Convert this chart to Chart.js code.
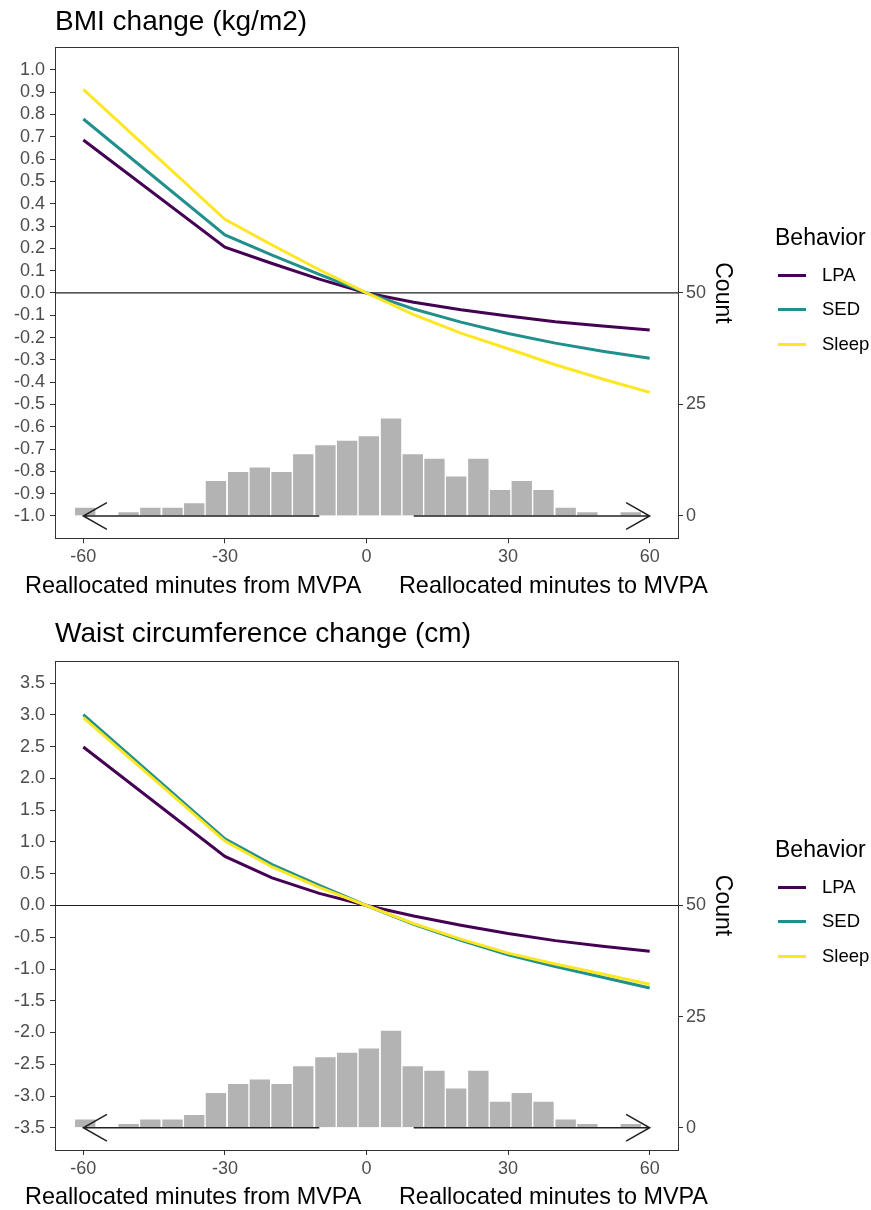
<!DOCTYPE html>
<html>
<head>
<meta charset="utf-8">
<script src="https://cdn.jsdelivr.net/npm/chart.js@4.4.1/dist/chart.umd.min.js"></script>
<style>
  body { margin: 0; background: #fff; font-family: 'Liberation Sans', Arial, sans-serif; }
  .plot { position: relative; width: 871px; height: 605px; }
  .plot canvas { position: absolute; left: 0; top: 0; }
  .xlab { position: absolute; left: 0; width: 733px; text-align: center; white-space: pre;
          font-size: 23.4px; line-height: 28px; color: #000; }
  .legend { position: absolute; left: 775px; width: 96px; color: #000; }
  .legend .ttl { font-size: 23px; line-height: 28px; height: 28px; white-space: nowrap; }
  .legend .rows { margin-top: 6.5px; }
  .legend .row { position: relative; height: 34.7px; }
  .legend .key { position: absolute; left: 3px; top: 16px; width: 28px; height: 3px; }
  .legend .lab { position: absolute; left: 47px; top: 0; line-height: 34.7px; font-size: 18.5px; white-space: nowrap; }
</style>
</head>
<body>
<div class="plot">
  <canvas id="bmiChart" width="871" height="605"></canvas>
  <div class="xlab" id="bmiXlab" style="top:571px"></div>
  <div class="legend" id="bmiLegend" style="top:223px"></div>
</div>
<div class="plot">
  <canvas id="waistChart" width="871" height="605"></canvas>
  <div class="xlab" id="waistXlab" style="top:577px"></div>
  <div class="legend" id="waistLegend" style="top:230px"></div>
</div>
<script>
// reallocated minutes (x) and predicted change per behavior
const minutes = [-60, -30, -20, -10, 0, 10, 20, 30, 40, 50, 60];

const bmiLPA   = [0.686, 0.205, 0.132, 0.062, 0, -0.042, -0.075, -0.103, -0.129, -0.148, -0.166];
const bmiSED   = [0.780, 0.260, 0.170, 0.083, 0, -0.072, -0.131, -0.182, -0.225, -0.261, -0.293];
const bmiSleep = [0.913, 0.330, 0.215, 0.104, 0, -0.097, -0.180, -0.250, -0.322, -0.386, -0.446];

const waistLPA   = [2.496, 0.773, 0.435, 0.190, 0, -0.165, -0.310, -0.440, -0.553, -0.640, -0.720];
const waistSED   = [3.006, 1.051, 0.645, 0.315, 0, -0.295, -0.550, -0.775, -0.960, -1.130, -1.300];
const waistSleep = [2.959, 1.014, 0.607, 0.285, 0, -0.285, -0.530, -0.750, -0.920, -1.080, -1.240];

// histogram of observed reallocations
const binMid   = [-59.6, -55.0, -50.4, -45.8, -41.1, -36.5, -31.9, -27.2, -22.6, -18.0, -13.4, -8.7, -4.1,
                  0.5, 5.2, 9.8, 14.4, 19.0, 23.7, 28.3, 32.9, 37.5, 42.2, 46.8, 51.4, 56.0];
const binCount = [2, 0, 1, 2, 2, 3, 8, 10, 11, 10, 14, 16, 17, 18, 22, 14, 13, 9, 13, 6, 8, 6, 2, 1, 0, 1];

const behaviors = ['LPA', 'SED', 'Sleep'];
const behaviorColors = ['#440154', '#21908C', '#FDE725'];

const xTicks = [-60, -30, 0, 30, 60];
const countTicks = [0, 25, 50];
const bmiTicks = [1.0, 0.9, 0.8, 0.7, 0.6, 0.5, 0.4, 0.3, 0.2, 0.1, 0.0,
                  -0.1, -0.2, -0.3, -0.4, -0.5, -0.6, -0.7, -0.8, -0.9, -1.0];
const waistTicks = [3.5, 3.0, 2.5, 2.0, 1.5, 1.0, 0.5, 0.0, -0.5, -1.0, -1.5, -2.0, -2.5, -3.0, -3.5];

const xRange = [-66, 66];
const countRange = [-5, 105];
const bmiRange = [-1.1, 1.1];
const waistRange = [-3.85, 3.85];

// arrows under the histogram (minutes, counts)
const arrowLeft = [-60, -10];
const arrowRight = [10, 60];
const arrowHead = 5;
const arrowSpread = 3;

const xLabel = 'Reallocated minutes from MVPA      Reallocated minutes to MVPA';

Chart.defaults.font.family = "'Liberation Sans', Arial, Helvetica, sans-serif";

function arrowPoints(){
    let l = arrowLeft[0], r = arrowRight[1];
    return [
        {x: l + arrowHead, y: arrowSpread}, {x: l, y: 0}, {x: l + arrowHead, y: -arrowSpread},
        {x: l, y: null},
        {x: arrowLeft[0], y: 0}, {x: arrowLeft[1], y: 0},
        {x: arrowLeft[1], y: null},
        {x: arrowRight[0], y: 0}, {x: arrowRight[1], y: 0},
        {x: r, y: null},
        {x: r - arrowHead, y: arrowSpread}, {x: r, y: 0}, {x: r - arrowHead, y: -arrowSpread}
    ];
}

function setTicks(list){
    return function(scale){ scale.ticks = list.map(v => ({value: v})); };
}

function buatChart(id, cfg){
    let datasets = [];
    behaviors.forEach(function(b, i){
        datasets.push({
            type: 'line', label: b,
            data: minutes.map((m, k) => ({x: m, y: cfg.series[i][k]})),
            borderColor: behaviorColors[i], borderWidth: 3,
            pointRadius: 0, tension: 0, yAxisID: 'y', order: 2 - i
        });
    });
    // zero reference line
    datasets.push({
        type: 'line', data: [{x: xRange[0], y: 0}, {x: xRange[1], y: 0}],
        borderColor: '#222222', borderWidth: 1.2, pointRadius: 0, yAxisID: 'y', order: 3
    });
    datasets.push({
        type: 'line', data: arrowPoints(), borderColor: '#222222', borderWidth: 1.5,
        pointRadius: 0, spanGaps: false, yAxisID: 'yc', order: 4
    });
    // HISTOGRAM
    datasets.push({
        type: 'bar', data: binMid.map((m, k) => ({x: m, y: binCount[k]})),
        backgroundColor: '#B3B3B3', borderColor: '#ffffff', borderWidth: 1,
        barPercentage: 1, categoryPercentage: 1, yAxisID: 'yc', order: 5
    });

    const tickFont = {size: 18};
    const axisGrid = {drawOnChartArea: false, color: '#333333', tickLength: 5, offset: false};
    const axisBorder = {color: '#333333', width: 1};

    return new Chart(document.getElementById(id), {
        type: 'line',
        data: {datasets: datasets},
        options: {
            responsive: false, animation: false, devicePixelRatio: 1,
            layout: {padding: {left: 0, right: 131, top: 0, bottom: cfg.padBottom}},
            plugins: {
                legend: {display: false},
                tooltip: {enabled: false},
                title: {
                    display: true, text: cfg.title, align: 'start', fullSize: false,
                    color: '#000', font: {size: 28, weight: 'normal'},
                    padding: {top: cfg.titleTop, bottom: cfg.titleBottom}
                }
            },
            scales: {
                x: {
                    type: 'linear', position: 'bottom', min: xRange[0], max: xRange[1], offset: false,
                    afterBuildTicks: setTicks(xTicks),
                    afterFit: s => { s.height = 60; },
                    ticks: {color: '#4d4d4d', font: tickFont, padding: 3, autoSkip: false, maxRotation: 0},
                    grid: axisGrid, border: axisBorder
                },
                xt: {
                    type: 'linear', position: 'top', min: xRange[0], max: xRange[1], offset: false,
                    ticks: {display: false}, grid: {display: false}, border: axisBorder,
                    afterFit: s => { s.height = 0; }
                },
                y: {
                    type: 'linear', position: 'left', min: cfg.range[0], max: cfg.range[1],
                    afterBuildTicks: setTicks(cfg.ticks),
                    afterFit: s => { s.width = 55; },
                    ticks: {color: '#4d4d4d', font: tickFont, padding: 5, autoSkip: false,
                            callback: v => v.toFixed(1)},
                    grid: axisGrid, border: axisBorder
                },
                yc: {
                    type: 'linear', position: 'right', min: countRange[0], max: countRange[1],
                    afterBuildTicks: setTicks(countTicks),
                    afterFit: s => { s.width = 62; },
                    ticks: {color: '#4d4d4d', font: tickFont, padding: 3, autoSkip: false},
                    grid: axisGrid, border: axisBorder,
                    title: {display: true, text: 'Count', color: '#000', font: {size: 23}, padding: {top: 4, bottom: 4}}
                }
            }
        }
    });
}

function buatLegend(id){
    let el = document.getElementById(id);
    let html = '<div class="ttl">Behavior</div><div class="rows">';
    behaviors.forEach(function(b, i){
        html += `<div class="row"><div class="key" style="background:${behaviorColors[i]}"></div>
                 <div class="lab">${b}</div></div>`;
    });
    el.innerHTML = html + '</div>';
}

buatChart('bmiChart', {
    title: 'BMI change (kg/m2)', series: [bmiLPA, bmiSED, bmiSleep],
    ticks: bmiTicks, range: bmiRange, titleTop: 5, titleBottom: 9, padBottom: 6.7
});
buatChart('waistChart', {
    title: 'Waist circumference change (cm)', series: [waistLPA, waistSED, waistSleep],
    ticks: waistTicks, range: waistRange, titleTop: 12, titleBottom: 10.4, padBottom: 0
});
document.getElementById('bmiXlab').textContent = xLabel;
document.getElementById('waistXlab').textContent = xLabel;
buatLegend('bmiLegend');
buatLegend('waistLegend');
</script>
</body>
</html>
